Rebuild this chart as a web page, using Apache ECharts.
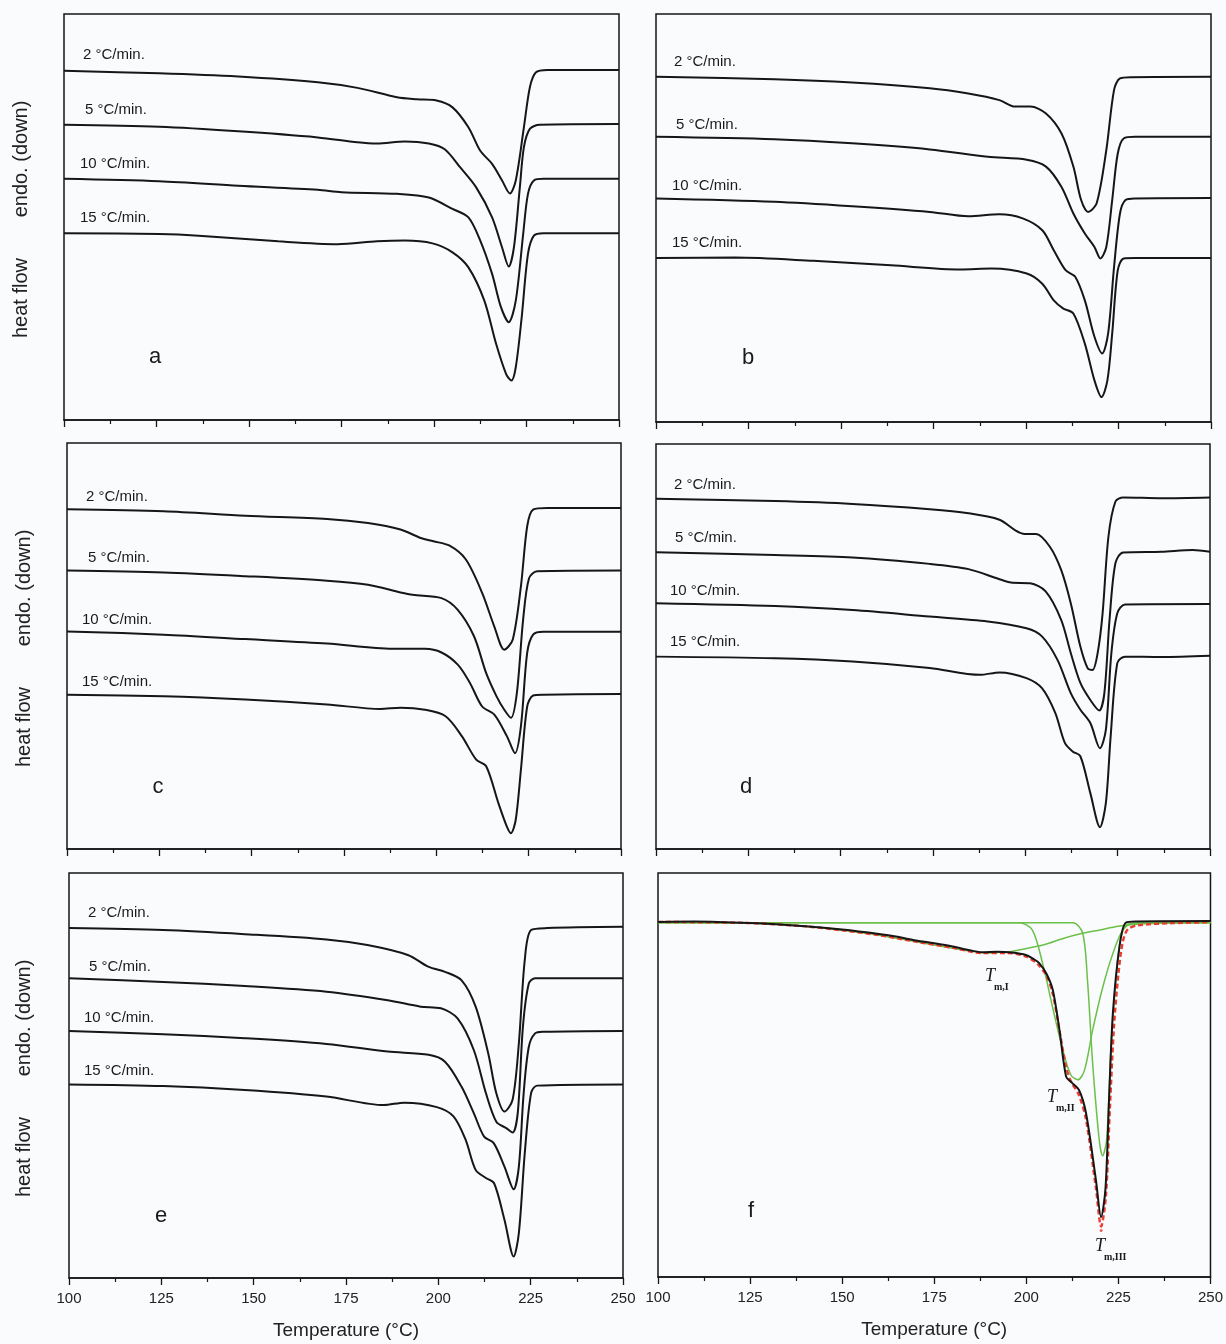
<!DOCTYPE html>
<html>
<head>
<meta charset="utf-8">
<script src="https://cdn.jsdelivr.net/npm/echarts@6/dist/echarts.min.js"></script>
<style>
html,body{margin:0;padding:0;background:#fafbfd;}
#chart{width:1226px;height:1344px;}
</style>
</head>
<body>
<div id="chart"></div>
<script>
// ---- data ----
const tempTicks = [100, 125, 150, 175, 200, 225, 250];
const rateLabels = ['2 °C/min.', '5 °C/min.', '10 °C/min.', '15 °C/min.'];
const panelLetters = ['a', 'b', 'c', 'd', 'e', 'f'];
const xAxisName = 'Temperature (°C)';
const yNameTop = 'endo. (down)';
const yNameBottom = 'heat flow';
const peakLabels = ['m,I', 'm,II', 'm,III'];

// panel a
const a2 = [[100,86.0],[125.7,85.4],[147.1,84.6],[168.6,83.2],[179.3,81.8],[190,79.5],[195.4,79.0],[200.7,78.7],[205,77.0],[209.3,72.1],[212.5,66.3],[215.7,63.1],[218.4,59.0],[220.5,55.8],[222.1,59],[224.3,72.1],[225.9,81.9],[227.5,85.6],[230.7,86.2],[250,86.2]];
const a5 = [[100,72.7],[125.7,72.2],[147.1,71.1],[168.6,69.6],[179.3,68.4],[184.6,68.1],[192.1,68.6],[198.6,68.1],[202.9,66.7],[207.1,62.2],[211.4,57.3],[215.7,49.9],[218.4,42.5],[220.2,37.8],[221.6,42.5],[223.2,57.3],[224.3,67.2],[225.9,71.7],[228.6,72.7],[250,72.9]];
const a10 = [[100,59.4],[125.7,58.8],[147.1,57.7],[168.6,56.7],[175,56.1],[190,55.7],[198.6,54.8],[205,52.0],[209.3,49.9],[212.5,44.2],[215.7,36.0],[218.1,27.8],[220.2,24.1],[222.1,29.4],[224.1,45.8],[225.4,55.7],[227,59.0],[229.6,59.4],[250,59.4]];
const a15 = [[100,46.0],[125.7,45.8],[136.4,45.4],[157.9,44.0],[173.9,43.3],[184.6,44.0],[192.1,44.2],[199.6,43.5],[205,41.3],[209.3,37.6],[213.6,29.4],[216.8,18.7],[219.5,11.3],[220.9,9.7],[222.1,13.0],[223.7,25.3],[225.4,40.9],[227,45.4],[229.6,46.0],[250,46.0]];
// panel b
const b2 = [[100,84.6],[132,84.0],[153,83.2],[174,81.8],[184.4,80.5],[192.8,78.9],[197,77.3],[201.2,77.3],[205.4,75.6],[209.6,70.7],[212.8,62.6],[214.9,54.4],[216.8,51.5],[219.1,53.6],[221.7,66.6],[223.8,81.4],[225.4,84.2],[228.5,84.5],[250,84.6]];
const b5 = [[100,69.9],[132,69.3],[153,68.3],[174,66.8],[189.7,65.0],[200.2,64.3],[205.4,62.6],[209.6,57.6],[212.8,51.1],[215.9,46.2],[218.5,42.9],[220.1,40.1],[221.7,42.9],[223.3,54.4],[224.8,65.8],[226.4,69.5],[229.5,69.9],[250,69.9]];
const b10 = [[100,54.8],[132,54.0],[153,52.9],[174,51.5],[184.4,50.4],[192.8,50.9],[199.1,49.9],[204.4,47.0],[207.5,42.1],[210.7,37.2],[213.3,35.6],[215.9,29.8],[218.5,20.9],[220.6,16.8],[222.2,21.7],[223.8,38.0],[225.4,51.1],[226.9,54.4],[229.5,54.8],[250,54.9]];
const b15 = [[100,40.2],[121.5,40.3],[142.5,39.5],[163.5,38.4],[182.3,37.4],[190.7,37.6],[200.2,36.4],[204.4,33.9],[207.5,29.8],[210.1,27.8],[212.8,26.6],[215.9,19.2],[218.5,10.2],[220.4,6.1],[222,10.2],[223.3,21.7],[224.8,37.2],[226.4,40.1],[229.5,40.2],[250,40.2]];
// panel c
const c2 = [[100,83.7],[126.2,83.2],[148.3,82.1],[170.4,81.3],[181.5,80.3],[190.3,78.7],[195.8,76.6],[199.2,75.8],[203.6,74.7],[208,71.3],[212.4,63.1],[215.7,54.8],[218.4,49.1],[220.7,51.6],[222.9,64.7],[224.6,79.5],[226.2,83.6],[230.1,84.0],[250,84.0]];
const c5 = [[100,68.6],[126.2,68.1],[148.3,67.2],[170.4,66.1],[181.5,65.1],[190.3,63.2],[193.6,62.6],[201.4,61.8],[205.8,58.9],[210.2,52.4],[213.5,43.3],[216.3,37.6],[218.4,34.3],[220.2,32.3],[221.8,38.4],[223.5,56.5],[225.1,66.7],[227.3,68.4],[250,68.6]];
const c10 = [[100,53.6],[126.2,52.8],[148.3,51.7],[170.4,50.6],[188.1,49.3],[196.9,49.3],[201.4,48.4],[205.8,45.4],[209.1,40.9],[212.4,35.1],[215.7,33.1],[219.1,27.8],[221.3,23.6],[222.9,30.2],[224.6,48.3],[226.2,52.8],[229,53.5],[250,53.5]];
const c15 = [[100,38.0],[126.2,37.6],[148.3,36.8],[170.4,35.6],[184.8,34.5],[190.3,34.8],[196.9,34.3],[202.5,32.7],[206.9,27.8],[210.8,22.0],[213.5,20.4],[216.8,11.3],[219.1,5.5],[220.2,3.9],[221.5,7.2],[222.9,19.5],[224.6,35.1],[226.2,37.8],[229,38.0],[250,38.2]];
// panel d
const d2 = [[100,86.5],[132.2,85.9],[153.2,85.2],[174.1,83.9],[184.6,82.9],[193,81.3],[197.1,78.8],[199.8,77.8],[202.9,77.8],[206.6,74.7],[209.7,68.9],[212.3,60.7],[214.9,50.0],[216.9,44.6],[218.2,44.2],[219.6,48.5],[220.9,58.0],[222.5,77.1],[224.4,85.8],[226.5,86.8],[236.9,86.6],[250,86.8]];
const d5 = [[100,73.3],[132.2,72.6],[153.2,72.0],[174.1,70.4],[184.6,69.1],[193,66.6],[196.1,65.8],[201.3,65.6],[205.5,63.6],[209.7,56.6],[212.3,48.4],[214.9,41.0],[217.6,36.8],[220,34.2],[221.4,38.5],[222.8,56.6],[224.4,70.6],[226.5,73.2],[236.9,73.4],[245.3,73.8],[250,73.4]];
const d10 = [[100,60.7],[132.2,60.0],[153.2,59.0],[174.1,57.4],[189.8,56.2],[200.3,54.5],[204.5,52.5],[208.7,46.7],[212.3,38.5],[214.9,34.4],[217.6,31.1],[220.2,24.9],[221.8,29.4],[223.3,48.4],[224.9,58.2],[227,60.4],[250,60.5]];
const d15 = [[100,47.5],[132.2,47.1],[153.2,46.3],[174.1,44.7],[187.7,43.0],[193,43.6],[200.3,42.2],[204.5,39.7],[208.1,33.6],[210.7,26.2],[212.8,24.1],[214.9,22.9],[217.6,13.8],[220.2,5.4],[221.8,11.3],[223.1,27.8],[224.9,45.9],[227,47.5],[236.9,47.4],[250,47.7]];
// panel e
const e2 = [[100,86.4],[125.5,85.9],[147.6,84.9],[169.7,83.6],[180.8,82.2],[191.9,79.7],[197.4,76.8],[201.8,75.6],[206.3,73.5],[210.1,67.0],[213.5,55.5],[215.7,45.6],[217.9,41.1],[220.1,44.0],[221.8,57.9],[223.4,78.5],[225.1,85.9],[229.5,86.4],[250,86.7]];
const e5 = [[100,74.0],[125.5,73.1],[147.6,72.1],[169.7,70.7],[186.3,68.6],[195.2,67.0],[200.7,66.6],[205.2,64.1],[209.6,56.3],[212.9,45.6],[215.7,38.6],[218.4,37.0],[220.1,35.9],[221.5,40.7],[222.9,62.0],[224.5,72.7],[226.2,74.0],[250,74.0]];
const e10 = [[100,61.0],[125.5,60.2],[147.6,59.2],[169.7,57.8],[186.3,55.9],[197.4,55.1],[201.8,53.4],[206.3,47.2],[209.6,40.7],[212.4,34.9],[215,33.3],[217.9,27.5],[220.4,21.9],[221.8,27.5],[223.1,45.6],[224.5,57.1],[226.2,60.4],[228.4,60.8],[250,61.0]];
const e15 = [[100,47.8],[125.5,47.4],[147.6,46.4],[169.7,44.8],[185.2,42.7],[190.8,43.3],[199.6,42.2],[204.1,39.9],[207.4,34.1],[210.1,26.7],[212.9,24.7],[215.1,23.4],[217.9,14.4],[220.4,5.3],[221.8,11.1],[223.4,30.8],[225.1,45.6],[226.7,47.5],[250,47.8]];
// panel f: experimental curve, fitted sum, and three components
const fExp = [[100,87.9],[110,88.0],[125,87.6],[140,86.8],[150,86.0],[160,84.9],[165,84.2],[170,83.3],[175,82.6],[180,81.8],[185,80.8],[188,80.4],[192,80.5],[196,80.3],[199.9,79.7],[202,78.7],[203.5,77.7],[205.5,75.0],[207.2,71.0],[209,61.1],[210.8,49.6],[212.1,48.3],[214.3,46.3],[216.2,40.6],[218.9,24.0],[220.3,14.8],[221.5,22.0],[222.5,45.0],[223.5,65.3],[225.3,81.8],[227,87.7],[230,88.0],[250,88.1]];
const fFit = [[100,87.9],[125,87.6],[140,86.8],[150,85.8],[160,84.6],[170,83.0],[180,81.5],[188,80.2],[195,80.2],[200,79.3],[203,77.5],[205.5,74.5],[207.2,70.0],[209,61.0],[210.8,52.0],[212.1,48.5],[214.3,45.0],[216.2,39.0],[218.9,22.0],[220.3,12.5],[221.6,20.0],[222.7,42.0],[223.8,62.0],[225,75.0],[226.2,83.0],[227.5,86.0],[230,87.0],[240,87.6],[250,87.8]];
const fPeakI = [[100,87.9],[125,87.6],[140,86.8],[150,85.8],[160,84.6],[170,83.0],[180,81.4],[185,80.6],[189,80.2],[193,80.4],[196,80.6],[200,81.3],[205,82.3],[210,83.8],[215,85.0],[220,85.9],[225,86.8],[230,87.3],[240,87.7],[250,87.8]];
const fPeakII = [[100,87.7],[198,87.7],[201.6,85.9],[204.4,77.7],[207.1,66.9],[209.9,56.2],[212.1,50.0],[214,48.8],[215.8,51.2],[218,61.1],[220.8,71.9],[223.5,80.1],[226.2,85.9],[228.7,87.5],[235,87.7],[250,87.7]];
const fPeakIII = [[100,87.7],[212.6,87.7],[215.3,85.1],[216.6,73.5],[218,53.0],[219.8,33.9],[220.7,30.0],[221.8,33.9],[223,57.0],[224.3,73.5],[225.7,84.2],[228,87.5],[250,87.7]];
const fitMinPoint = [[220.3,11.5]];

// ---- layout ----
const grids = [
  {left:64, top:14, width:555, height:406},
  {left:656, top:14, width:555, height:408},
  {left:67, top:443, width:554, height:406},
  {left:656, top:444, width:554, height:405},
  {left:69, top:873, width:554, height:405},
  {left:658, top:873, width:555, height:404}
];
const rateLabelPos = [
  [[83,55],[85,110],[80,164],[80,218]],
  [[674,62],[676,125],[672,186],[672,243]],
  [[86,497],[88,558],[82,620],[82,682]],
  [[674,485],[675,538],[670,591],[670,642]],
  [[88,913],[89,967],[84,1018],[84,1071]],
  null
];
const letterPos = [[155,357],[748,358],[158,787],[746,787],[161,1216],[751,1211]];
const yNamePos = [[21,14],[24,443],[24,873]];

const FONT = '"Liberation Sans", Arial, Helvetica, sans-serif';
const SERIF = '"Liberation Serif", "DejaVu Serif", "Times New Roman", serif';
const INK = '#161616';

const panelCurves = [
  [a2,a5,a10,a15],[b2,b5,b10,b15],[c2,c5,c10,c15],[d2,d5,d10,d15],[e2,e5,e10,e15]
];

const xAxes = grids.map((g, i) => ({
  type: 'value', gridIndex: i, min: 100, max: 250, interval: 25,
  axisLine: {show: true, onZero: false, lineStyle: {color: INK, width: 1.5}},
  axisTick: {show: true, length: 7, lineStyle: {color: INK, width: 1.3}},
  minorTick: {show: true, splitNumber: 2, length: 4, lineStyle: {color: INK, width: 1.2}},
  splitLine: {show: false},
  axisLabel: {show: i >= 4, fontSize: 15, color: '#222', fontFamily: FONT, margin: 13,
              formatter: v => tempTicks.includes(v) ? String(v) : ''},
  name: i >= 4 ? xAxisName : '',
  nameLocation: 'middle', nameGap: 43,
  nameTextStyle: {fontSize: 19, color: '#222', fontFamily: FONT}
}));
const yAxes = grids.map((g, i) => ({
  type: 'value', gridIndex: i, min: 0, max: 100,
  axisLine: {show: false}, axisTick: {show: false}, axisLabel: {show: false}, splitLine: {show: false}
}));

const series = [];
panelCurves.forEach((curves, i) => {
  curves.forEach(data => {
    series.push({type: 'line', xAxisIndex: i, yAxisIndex: i, data, showSymbol: false,
      smooth: 0.3, lineStyle: {color: INK, width: 2}, silent: true});
  });
});
const greenStyle = {color: '#6cc04a', width: 1.5};
[fPeakI, fPeakII, fPeakIII].forEach(data => {
  series.push({type: 'line', xAxisIndex: 5, yAxisIndex: 5, data, showSymbol: false,
    smooth: 0.3, lineStyle: greenStyle, silent: true});
});
series.push({type: 'line', xAxisIndex: 5, yAxisIndex: 5, data: fFit, showSymbol: false,
  smooth: 0.3, lineStyle: {color: '#ec3b2f', width: 2.4, type: [5, 3]}, silent: true});
series.push({type: 'line', xAxisIndex: 5, yAxisIndex: 5, data: fExp, showSymbol: false,
  smooth: 0.3, lineStyle: {color: INK, width: 2}, silent: true});
series.push({type: 'scatter', xAxisIndex: 5, yAxisIndex: 5, data: fitMinPoint,
  symbol: 'circle', symbolSize: 3, itemStyle: {color: '#ec3b2f'}, silent: true});

const graphics = [];
rateLabelPos.forEach(pl => {
  if (!pl) return;
  pl.forEach((p, k) => graphics.push({type: 'text', x: p[0], y: p[1],
    style: {text: rateLabels[k], fontSize: 15, fontFamily: FONT, fill: '#1a1a1a', align: 'left', verticalAlign: 'middle'}}));
});
letterPos.forEach((p, i) => graphics.push({type: 'text', x: p[0], y: p[1],
  style: {text: panelLetters[i], fontSize: 22, fontFamily: FONT, fill: '#1a1a1a', align: 'center', verticalAlign: 'middle'}}));
yNamePos.forEach(p => {
  graphics.push({type: 'text', x: p[0], y: p[1] + 145, rotation: Math.PI / 2,
    style: {text: yNameTop, fontSize: 20, fontFamily: FONT, fill: '#222', align: 'center', verticalAlign: 'middle'}});
  graphics.push({type: 'text', x: p[0], y: p[1] + 284, rotation: Math.PI / 2,
    style: {text: yNameBottom, fontSize: 20, fontFamily: FONT, fill: '#222', align: 'center', verticalAlign: 'middle'}});
});
const peakLabelPos = [[990, 976], [1052, 1097], [1100, 1246]];
peakLabelPos.forEach((p, k) => {
  graphics.push({type: 'text', x: p[0], y: p[1],
    style: {text: 'T', fontSize: 18, fontStyle: 'italic', fontFamily: SERIF, fill: '#1a1a1a', align: 'center', verticalAlign: 'middle'}});
  graphics.push({type: 'text', x: p[0] + 4, y: p[1] + 11,
    style: {text: peakLabels[k], fontSize: 10, fontWeight: 'bold', fontFamily: SERIF, fill: '#1a1a1a', align: 'left', verticalAlign: 'middle'}});
});

const chart = echarts.init(document.getElementById('chart'), null, {renderer: 'canvas'});
chart.setOption({
  backgroundColor: '#fafbfd',
  animation: false,
  grid: grids.map(g => Object.assign({show: true, borderColor: INK, borderWidth: 1.5, backgroundColor: 'transparent'}, g)),
  xAxis: xAxes,
  yAxis: yAxes,
  series,
  graphic: graphics
});
</script>
</body>
</html>
